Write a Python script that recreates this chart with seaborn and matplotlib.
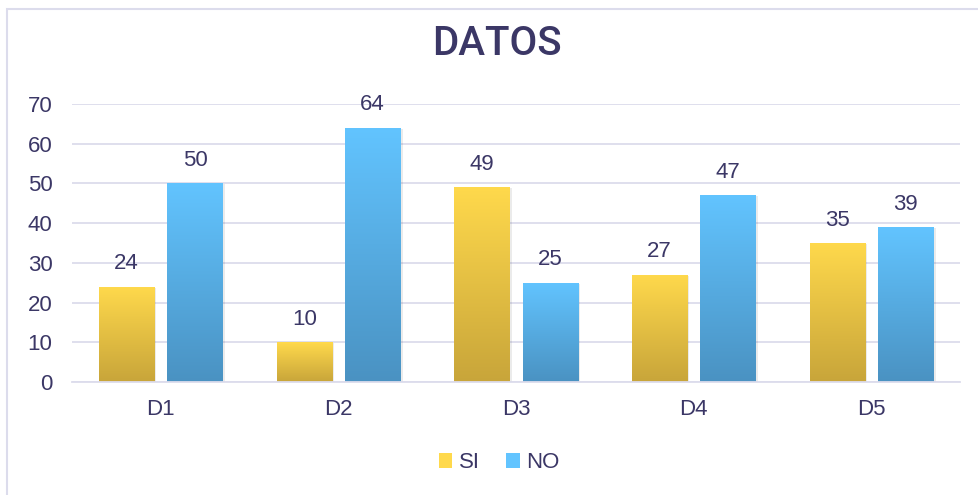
import matplotlib
matplotlib.use('Agg')
import matplotlib.pyplot as plt
import matplotlib.patches as mpatches
import numpy as np
import pandas as pd
import seaborn as sns

# chart values
categories = ['D1', 'D2', 'D3', 'D4', 'D5']
si_values = [24, 10, 49, 27, 35]
no_values = [50, 64, 25, 47, 39]
series_names = ['SI', 'NO']

Data = pd.DataFrame({
    'Cat': categories * 2,
    'Valor': si_values + no_values,
    'Serie': ['SI'] * len(categories) + ['NO'] * len(categories),
})

TextColor = '#3b3766'
GridColor = '#dcdcec'
# (top colour, bottom colour) of each gradient
Gradients = {'SI': ('#ffd94c', '#c8a53a'), 'NO': ('#62c4ff', '#4a92c2')}

sns.set_style('white')
plt.rcParams['font.family'] = ['Liberation Sans', 'DejaVu Sans']

fig = plt.figure(figsize=(9.79, 4.95), dpi=100)
ax = fig.add_axes([0.0735, 0.228, 0.9075, 0.562])

ax = sns.barplot(
        x='Cat',
        y='Valor',
        hue='Serie',
        data=Data,
        order=categories,
        hue_order=series_names,
        palette=[Gradients['SI'][0], Gradients['NO'][0]],
        width=0.77,
        gap=0.19,
        legend=False,
        ax=ax)

ax.set_ylim(0, 70)
ax.set_xlim(-0.5, len(categories) - 0.5)
ax.set_yticks(range(0, 71, 10))
ax.yaxis.grid(True, color=GridColor, linewidth=1.3)
ax.set_axisbelow(True)
for s in ['top', 'right', 'left']:
    ax.spines[s].set_visible(False)
ax.spines['bottom'].set_color(GridColor)
ax.spines['bottom'].set_linewidth(1.3)
ax.tick_params(axis='both', length=0, labelsize=16, colors=TextColor)
ax.tick_params(axis='x', pad=12)
ax.tick_params(axis='y', pad=14)
ax.set_xlabel('')
ax.set_ylabel('')


def gradient_img(top, bottom, n=256):
    t = np.linspace(0, 1, n)[:, None]
    c1 = np.array(matplotlib.colors.to_rgb(top))
    c2 = np.array(matplotlib.colors.to_rgb(bottom))
    return (c1 * (1 - t) + c2 * t)[:, None, :].repeat(2, axis=1)


# gradient fill for each bar, taken from the seaborn bar geometry
for name, cont in zip(series_names, ax.containers):
    img = gradient_img(*Gradients[name])
    for bar in cont:
        x0, y0 = bar.get_x(), bar.get_y()
        w, h = bar.get_width(), bar.get_height()
        bar.set_facecolor('none')
        bar.set_edgecolor('none')
        # soft shadow
        sh = mpatches.Rectangle((x0 + 0.012, y0), w, h - 0.2, facecolor='#000000',
                                alpha=0.08, zorder=1.5, linewidth=0)
        ax.add_patch(sh)
        im = ax.imshow(img, extent=[x0, x0 + w, y0, y0 + h], aspect='auto',
                       origin='upper', zorder=2)
        im.set_clip_path(bar)
        ax.annotate(f'{h:g}', (x0 + w / 2, y0 + h), xytext=(0, 9),
                    textcoords='offset points', ha='center', va='bottom',
                    fontsize=16, color=TextColor)

ax.set_xlim(-0.5, len(categories) - 0.5)
ax.set_ylim(0, 70)

fig.suptitle('DATOS', x=0.508, y=0.95, fontsize=29, color=TextColor,
             family=['Roboto', 'Liberation Sans'], weight='medium')

# legend at the bottom
handles = [mpatches.Patch(facecolor=Gradients[n][0], edgecolor='none') for n in series_names]
fig.legend(handles, series_names, loc='center', bbox_to_anchor=(0.51, 0.065), ncol=2,
           frameon=False, fontsize=16, labelcolor=TextColor, handlelength=0.6,
           handleheight=0.6, handletextpad=0.3, columnspacing=1.2)

# chart frame
frame = mpatches.Rectangle((7 / 979, -0.1), 1.2, 1 - 9 / 495 + 0.1, transform=fig.transFigure,
                           facecolor='none', edgecolor=GridColor, linewidth=1.5)
fig.patches.append(frame)

fig.savefig('out.png', dpi=100)
